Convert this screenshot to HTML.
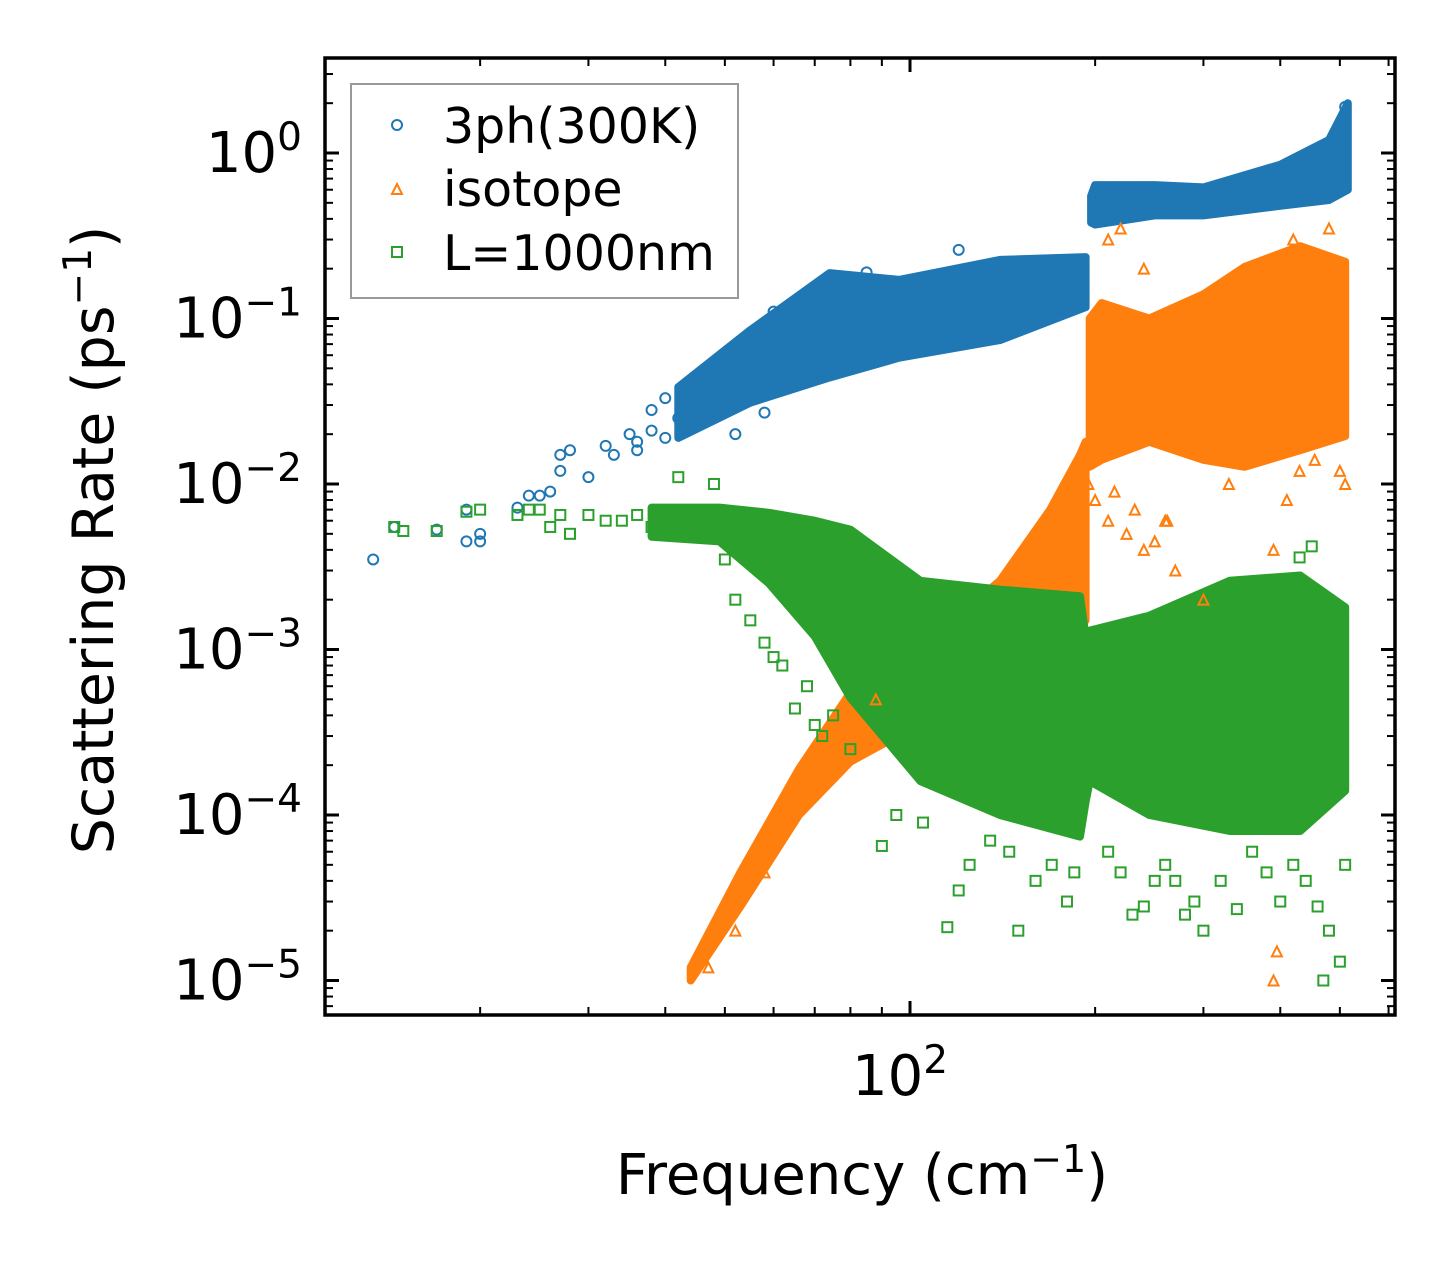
<!DOCTYPE html>
<html><head><meta charset="utf-8"><style>
html,body{margin:0;padding:0;background:#fff}
svg{display:block;font-family:"DejaVu Sans","Liberation Sans",sans-serif}
</style></head><body>
<svg id="chart" width="1455" height="1265" viewBox="0 0 1455 1265" xmlns="http://www.w3.org/2000/svg">
<g id="bands"></g>
<g id="points"></g>
<g id="axes"></g>
<g>
<rect x="351" y="84" width="387" height="214" fill="#fff" fill-opacity="0.8" stroke="#999" stroke-width="2"/>
<circle cx="397" cy="125" r="5" fill="none" stroke="#1f77b4" stroke-width="2"/>
<text x="443" y="143" font-size="49">3ph(300K)</text>
<polygon points="397,184 402,194 392,194" fill="none" stroke="#ff7f0e" stroke-width="2"/>
<text x="443" y="206" font-size="49">isotope</text>
<rect x="392" y="247" width="10" height="10" fill="none" stroke="#2ca02c" stroke-width="2"/>
<text x="443" y="270" font-size="49">L=1000nm</text>
</g>
<text x="862" y="1194" font-size="56" text-anchor="middle">Frequency (cm<tspan baseline-shift="super" font-size="38">−1</tspan>)</text>
<text transform="translate(113,540) rotate(-90)" font-size="57" text-anchor="middle">Scattering Rate (ps<tspan baseline-shift="super" font-size="39">−1</tspan>)</text>
</svg>
<script>
// axis geometry
const L=325,R=1395,T=58,B=1015;
function xs(f){return 910+615*(Math.log10(f)-2);}
function ys(v){return 153-165.5*Math.log10(v);}

// tick data
const yMajor=[0,-1,-2,-3,-4,-5];
const xMajor=[2];
const xMinor=[20,30,40,50,60,70,80,90,200,300,400,500,600];

// band envelopes (frequency, lower, upper)
const blueLowF=[42,55,74,96,140,193];
const blueLowLo=[0.019,0.031,0.044,0.058,0.074,0.117];
const blueLowHi=[0.0385,0.085,0.188,0.171,0.226,0.235];
const blueHiF=[197,200,250,300,400,480,515];
const blueHiLo=[0.38,0.37,0.42,0.42,0.48,0.52,0.6];
const blueHiHi=[0.55,0.64,0.64,0.62,0.85,1.2,2.0];
const orLowF=[44,53,66,80,100,140,169,189,193];
const orLowLo=[1e-5,2.8e-5,1e-4,2.1e-4,3.3e-4,6e-4,1.2e-3,1.5e-3,1.5e-3];
const orLowHi=[1.2e-5,4.5e-5,1.9e-4,5.5e-4,9e-4,2.6e-3,7e-3,0.015,0.018];
const orHiF=[196,205,245,300,350,431,510];
const orHiLo=[0.0127,0.014,0.018,0.014,0.0127,0.016,0.0195];
const orHiHi=[0.1,0.124,0.1,0.14,0.205,0.274,0.22];
const grF=[38,49,59,70,80,104,140,189,193,196,245,331,431,510];
const grLo=[0.0048,0.0045,0.0025,0.0012,5.1e-4,1.6e-4,1.0e-4,7.4e-5,1.2e-4,1.6e-4,1e-4,8e-5,8e-5,1.4e-4];
const grHi=[0.0072,0.0072,0.0067,0.006,0.0053,0.0026,0.0023,0.0021,0.0012,0.0013,0.0016,0.0026,0.0028,0.0018];

// scatter points
const blueF=[13.4,14.5,17,19,19,20,20,23,24,25,26,27,28,27,30,32,33,35,36,38,40,42,45,50,55,60,65,60,70,75,85,110,120,150,130,170,210,230,260,300,350,420,470,500,510,52,58,36,38,40];
const blueV=[0.0035,0.0055,0.0053,0.0045,0.007,0.005,0.0045,0.0072,0.0085,0.0085,0.009,0.015,0.016,0.012,0.011,0.017,0.015,0.02,0.016,0.028,0.033,0.025,0.03,0.05,0.06,0.08,0.1,0.11,0.13,0.18,0.19,0.12,0.26,0.2,0.14,0.19,0.6,0.62,0.58,0.52,0.55,0.7,0.9,1.5,1.9,0.02,0.027,0.018,0.021,0.019];
const orF=[47,52,58,65,72,78,88,205,210,220,240,260,270,300,330,390,430,420,480,500,395,390,410,455,510,200,210,215,225,232,240,250,262,195];
const orV=[1.2e-5,2e-5,4.5e-5,1.3e-4,2e-4,4.5e-4,5e-4,0.05,0.3,0.35,0.2,0.006,0.003,0.002,0.01,0.004,0.012,0.3,0.35,0.012,1.5e-5,1e-5,0.008,0.014,0.01,0.008,0.006,0.009,0.005,0.007,0.004,0.0045,0.006,0.01];
const gpF=[14.5,15,17,19,20,23,24,25,26,27,28,30,32,34,36,38,42,44,48,50,52,55,58,60,62,65,68,70,72,75,78,80,85,90,95,105,110,115,120,125,135,145,150,160,170,180,185,210,220,230,240,250,260,270,280,290,300,320,340,360,380,400,420,440,460,480,500,510,470,450,430];
const gpV=[0.0055,0.0052,0.0052,0.0068,0.007,0.0065,0.007,0.007,0.0055,0.0065,0.005,0.0065,0.006,0.006,0.0065,0.0055,0.011,0.006,0.01,0.0035,0.002,0.0015,0.0011,0.0009,0.0008,0.00044,0.0006,0.00035,0.0003,0.0004,0.0009,0.00025,0.00065,0.000065,0.0001,0.00009,0.0002,0.000021,0.000035,0.00005,0.00007,0.00006,0.00002,0.00004,0.00005,0.00003,0.000045,0.00006,0.000045,0.000025,0.000028,0.00004,0.00005,0.00004,0.000025,0.00003,0.00002,0.00004,0.000027,0.00006,0.000045,0.00003,0.00005,0.00004,0.000028,0.00002,0.000013,0.00005,0.00001,0.0042,0.0036];

const NS='http://www.w3.org/2000/svg';
function mk(tag,attrs,parent){const e=document.createElementNS(NS,tag);for(const k in attrs)e.setAttribute(k,attrs[k]);parent.appendChild(e);return e;}
const bands=document.getElementById('bands'),pts=document.getElementById('points'),axes=document.getElementById('axes');

function band(F,lo,hi,color,name){
  let d='M'+F.map((f,i)=>xs(f).toFixed(1)+','+ys(hi[i]).toFixed(1)).join('L');
  d+='L'+F.map((f,i)=>xs(f).toFixed(1)+','+ys(lo[i]).toFixed(1)).reverse().join('L')+'Z';
  const p=mk('path',{d:d,fill:color,stroke:color,'stroke-width':8,'stroke-linejoin':'round'},bands);
  
  
}
band(blueLowF,blueLowLo,blueLowHi,'#1f77b4','band-3ph-low');
band(blueHiF,blueHiLo,blueHiHi,'#1f77b4','band-3ph-high');
band(orLowF,orLowLo,orLowHi,'#ff7f0e','band-isotope-low');
band(orHiF,orHiLo,orHiHi,'#ff7f0e','band-isotope-high');
band(grF,grLo,grHi,'#2ca02c','band-boundary');

blueF.forEach((f,i)=>{
  const c=mk('circle',{cx:xs(f),cy:ys(blueV[i]),r:5,fill:'none',stroke:'#1f77b4','stroke-width':2},pts);
  
  
});
orF.forEach((f,i)=>{
  const x=xs(f),y=ys(orV[i]);
  const c=mk('polygon',{points:`${x},${y-5} ${x+5},${y+5} ${x-5},${y+5}`,fill:'none',stroke:'#ff7f0e','stroke-width':2},pts);
  
  
});
gpF.forEach((f,i)=>{
  const c=mk('rect',{x:xs(f)-5,y:ys(gpV[i])-5,width:10,height:10,fill:'none',stroke:'#2ca02c','stroke-width':2},pts);
  
  
});

// ticks
function line(x1,y1,x2,y2,w){mk('line',{x1,y1,x2,y2,stroke:'#000','stroke-width':w},axes);}
yMajor.forEach(e=>{
  const y=ys(Math.pow(10,e));
  line(L,y,L+14,y,3);line(R,y,R-14,y,3);
  const t=mk('text',{x:302,y:y+19,'font-size':56,'text-anchor':'end'},axes);
  
  
  t.innerHTML='10<tspan baseline-shift="super" font-size="39">'+(e===0?'0':'−'+(-e))+'</tspan>';
  for(let m=2;m<=9;m++){
    const yy=ys(m*Math.pow(10,e-1));
    if(yy>T&&yy<B){line(L,yy,L+8,yy,2);line(R,yy,R-8,yy,2);}
    const y2=ys(m*Math.pow(10,e));
    if(e===0&&y2>T){line(L,y2,L+8,y2,2);line(R,y2,R-8,y2,2);}
  }
});
xMajor.forEach(e=>{
  const x=xs(Math.pow(10,e));
  line(x,B,x,B-14,3);line(x,T,x,T+14,3);
  const t=mk('text',{x:x-10,y:1095,'font-size':56,'text-anchor':'middle'},axes);
  
  
  t.innerHTML='10<tspan baseline-shift="super" font-size="39">2</tspan>';
});
xMinor.forEach(f=>{const x=xs(f);if(x>L&&x<R){line(x,B,x,B-8,2);line(x,T,x,T+8,2);}});
const fr=mk('rect',{x:L,y:T,width:R-L,height:B-T,fill:'none',stroke:'#000','stroke-width':3.5},axes);


</script>
</body></html>
